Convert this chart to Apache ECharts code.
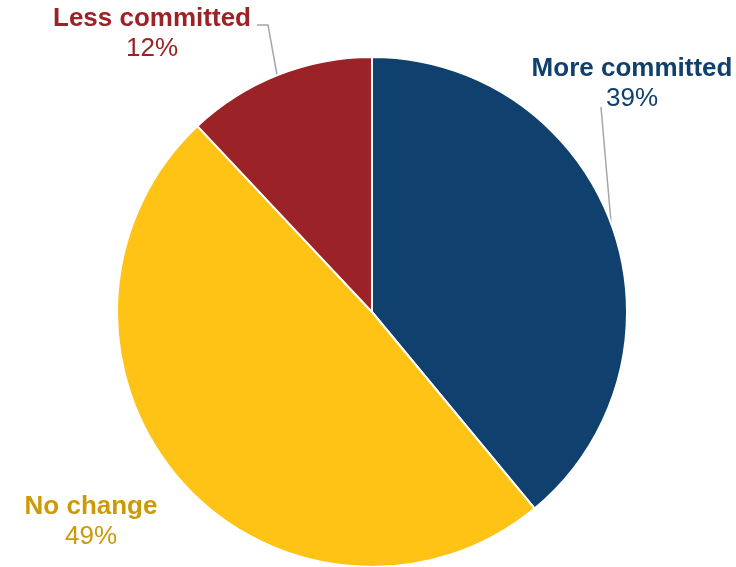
<!DOCTYPE html>
<html>
<head>
<meta charset="utf-8">
<style>
  html, body { margin: 0; padding: 0; background: #ffffff; }
  #chart { width: 736px; height: 567px; }
</style>
<script src="https://cdn.jsdelivr.net/npm/echarts@6/dist/echarts.min.js"></script>
</head>
<body>
<div id="chart"></div>
<script>
// Share of respondents by change in commitment
const categories = ['More committed', 'No change', 'Less committed'];
const shares = [39, 49, 12];
const sliceColors = ['#10406D', '#FEC315', '#9B2226'];
const labelColors = ['#10406D', '#CC9A06', '#9B2226'];

// Where each label block sits and how its leader line runs
const labelSpots = [
  { x: 632, y: 84, line: [[611, 222], [606, 165], [601, 107]] },
  { x: 91, y: 522, line: null },
  { x: 152, y: 34, line: [[277, 75], [268, 25], [257, 25]] }
];

const chart = echarts.init(document.getElementById('chart'), null, { renderer: 'canvas' });

chart.setOption({
  animation: false,
  backgroundColor: '#ffffff',
  series: [{
    type: 'pie',
    center: [372, 312],
    radius: 255,
    startAngle: 90,
    clockwise: true,
    avoidLabelOverlap: false,
    data: categories.map((name, i) => ({
      name: name,
      value: shares[i],
      itemStyle: { color: sliceColors[i] },
      label: {
        rich: {
          n: { color: labelColors[i], fontWeight: 'bold', fontSize: 26, fontFamily: 'Liberation Sans, Arial, sans-serif', lineHeight: 30, align: 'center' },
          p: { color: labelColors[i], fontSize: 26, fontFamily: 'Liberation Sans, Arial, sans-serif', lineHeight: 30, align: 'center' }
        }
      },
      labelLine: { show: labelSpots[i].line !== null }
    })),
    itemStyle: { borderColor: '#ffffff', borderWidth: 2 },
    label: {
      show: true,
      position: 'outside',
      alignTo: 'none',
      overflow: 'none',
      width: 260,
      formatter: '{n|{b}}\n{p|{c}%}'
    },
    labelLine: {
      show: true,
      lineStyle: { color: '#A6A6A6', width: 1.5 }
    },
    labelLayout: function (params) {
      const spot = labelSpots[params.dataIndex];
      const out = { x: spot.x, y: spot.y, align: 'center', verticalAlign: 'middle' };
      if (spot.line) out.labelLinePoints = spot.line;
      return out;
    }
  }]
});
</script>
</body>
</html>
